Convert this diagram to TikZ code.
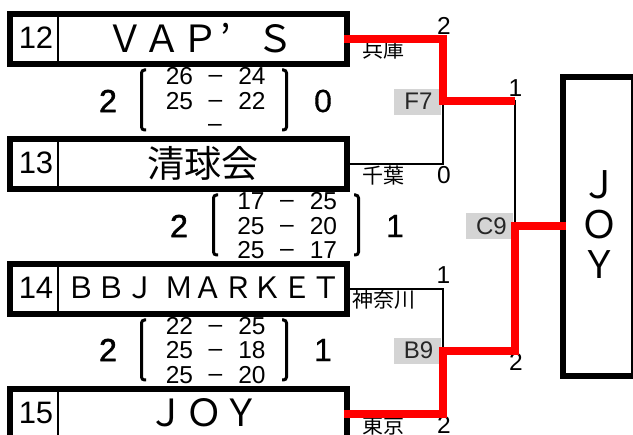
\documentclass[tikz,border=0pt]{standalone}
\usepackage{fontspec}
\setmainfont[Kerning=Off]{Noto Sans CJK JP}
\newfontfamily\numf{Liberation Sans}
\newfontfamily\medf[FakeBold=0.5]{Liberation Sans}
\newfontfamily\boldf[FakeBold=1.6]{Liberation Sans}
\newcommand{\fs}[1]{\fontsize{#1}{#1}\selectfont}
\tikzset{
  team/.style={draw=black,line width=6pt,fill=white,minimum width=337pt,minimum height=50pt,inner sep=0pt,outer sep=0pt},
  seedno/.style={inner sep=0pt,font=\numf\fs{31}},
  tname/.style={inner sep=0pt},
  score/.style={inner sep=0pt,font=\numf\fs{24.5}},
  bigscore/.style={inner sep=0pt,font=\medf\fs{32},text=black},
  winscore/.style={inner sep=0pt,font=\boldf\fs{32},text=black},
  pref/.style={inner sep=0pt,font=\fs{21}},
  game/.style={fill=black!17,minimum width=47pt,minimum height=26pt,inner sep=0pt,outer sep=0pt},
  gamelab/.style={inner sep=0pt,font=\numf\fs{24},text=black!85},
  loseline/.style={draw=black,line width=2.4pt},
  winline/.style={draw=red,line width=7.6pt,line cap=butt},
  brack/.style={draw=black,line width=3pt,rounded corners=3pt}
}
\begin{document}
\begin{tikzpicture}[x=1pt,y=-1pt]
\useasboundingbox (0,0) rectangle (633,435);
\clip (0,0) rectangle (633,435);
% score columns (drawn first: the boxes cut them)
\foreach \sid/\sy/\sx/\sa/\sb in {a/76/179.5/26/24,b/101/179.5/25/22,d/201/251/17/25,e/226/251/25/20,f/250/251/25/17,g/326/179.5/22/25,h/350/179.5/25/18,i/375/179.5/25/20}{
  \node[score] (l\sid) at (\sx,\sy) {\sa};
  \node[score] (m\sid) at (\sx+36,\sy+3) {–};
  \node[score] (r\sid) at (\sx+72.5,\sy) {\sb};
}
\node[score] (mc) at (215,128) {–};
\foreach \lx/\ty in {140/70,212/195,140/320}{
  \draw[brack] (\lx+6,\ty) -| (\lx+1.5,\ty+60) -- (\lx+6,\ty+60);
  \draw[brack] (\lx+142,\ty) -| (\lx+146.5,\ty+60) -- (\lx+142,\ty+60);
}
\node[winscore] (s1a) at (108,101) {2};
\node[bigscore] (s1b) at (323,101) {0};
\node[winscore] (s2a) at (179,226) {2};
\node[bigscore] (s2b) at (395,226) {1};
\node[winscore] (s3a) at (108,350) {2};
\node[bigscore] (s3b) at (323,350) {1};
% team boxes
\node[team] (t12) at (178.5,39) {};
\node[team] (t13) at (178.5,164) {};
\node[team] (t14) at (178.5,289) {};
\node[team] (t15) at (178.5,414) {};
\node[draw=black,line width=6pt,fill=white,minimum width=71pt,minimum height=299pt,inner sep=0pt,outer sep=0pt] (champ) at (598.5,226.5) {};
\foreach \t in {12,13,14,15}{
  \draw[black,line width=2.4pt] ([xshift=48pt,yshift=-3pt]t\t.north west) -- ([xshift=48pt,yshift=3pt]t\t.south west);
}
\node[seedno] (n12) at (36,38) {12};
\node[seedno] (n13) at (36,163) {13};
\node[seedno] (n14) at (36,288) {14};
\node[seedno] (n15) at (36,413) {15};
\node[tname,font=\fs{37.5}] (v) at (200,38) {ＶＡＰ\makebox[37.5pt][l]{\hspace{2pt}’}Ｓ};
\node[tname,font=\fs{37}] (k) at (203,163) {清球会};
\node[tname,font=\fs{29.5}] (b) at (204,288) {ＢＢＪ\hspace{9pt}ＭＡＲＫＥＴ};
\node[tname,font=\fs{37.5}] (j) at (204,413) {ＪＯＹ};
\node[tname,font=\fs{38}] (cj) at (599,185) {Ｊ};
\node[tname,font=\fs{38}] (co) at (599,225) {Ｏ};
\node[tname,font=\fs{38}] (cy) at (599,265) {Ｙ};
% game labels
\node[game] (f7) at (417.5,102) {};
\node[game] (c9) at (489.5,226.5) {};
\node[game] (b9) at (417.5,351) {};
\node[gamelab] (f7t) at (418.5,101) {F7};
\node[gamelab] (c9t) at (491.5,226) {C9};
\node[gamelab] (b9t) at (418.5,350) {B9};
% prefectures and set counts
\node[pref] (p1) at (383,50) {兵庫};
\node[pref] (p2) at (383,176) {千葉};
\node[pref] (p3) at (383.5,300) {神奈川};
\node[pref] (p4) at (383,426) {東京};
\node[score] (c1) at (444,26) {2};
\node[score] (c2) at (444,175) {0};
\node[score] (c3) at (443.5,275) {1};
\node[score] (c4) at (444,425) {2};
\node[score] (c5) at (515.5,88) {1};
\node[score] (c6) at (516,362) {2};
% bracket joints
\coordinate (j1) at (443,101);
\coordinate (j2) at (443,351);
\coordinate (j3) at (515,226);
% losing lines
\draw[loseline] (t13.east) -| (j1);
\draw[loseline] (t14.east) -| (j2);
\draw[loseline] (j1) -| (j3);
% winning lines
\draw[winline] ([xshift=-3pt]t12.east) -| ([yshift=3.8pt]j1);
\draw[winline] ([xshift=-3pt]t15.east) -| ([yshift=-3.8pt]j2);
\draw[winline] ([xshift=-3.8pt]j1) -- (j3 |- j1);
\draw[winline] ([xshift=-3.8pt]j2) -- ([xshift=3.8pt]j3 |- j2);
\draw[winline] (j3 |- j2) -- ([yshift=-3.8pt]j3);
\draw[winline] ([xshift=-3.8pt]j3) -- ([xshift=3pt]j3 -| champ.west);
\end{tikzpicture}
\end{document}
